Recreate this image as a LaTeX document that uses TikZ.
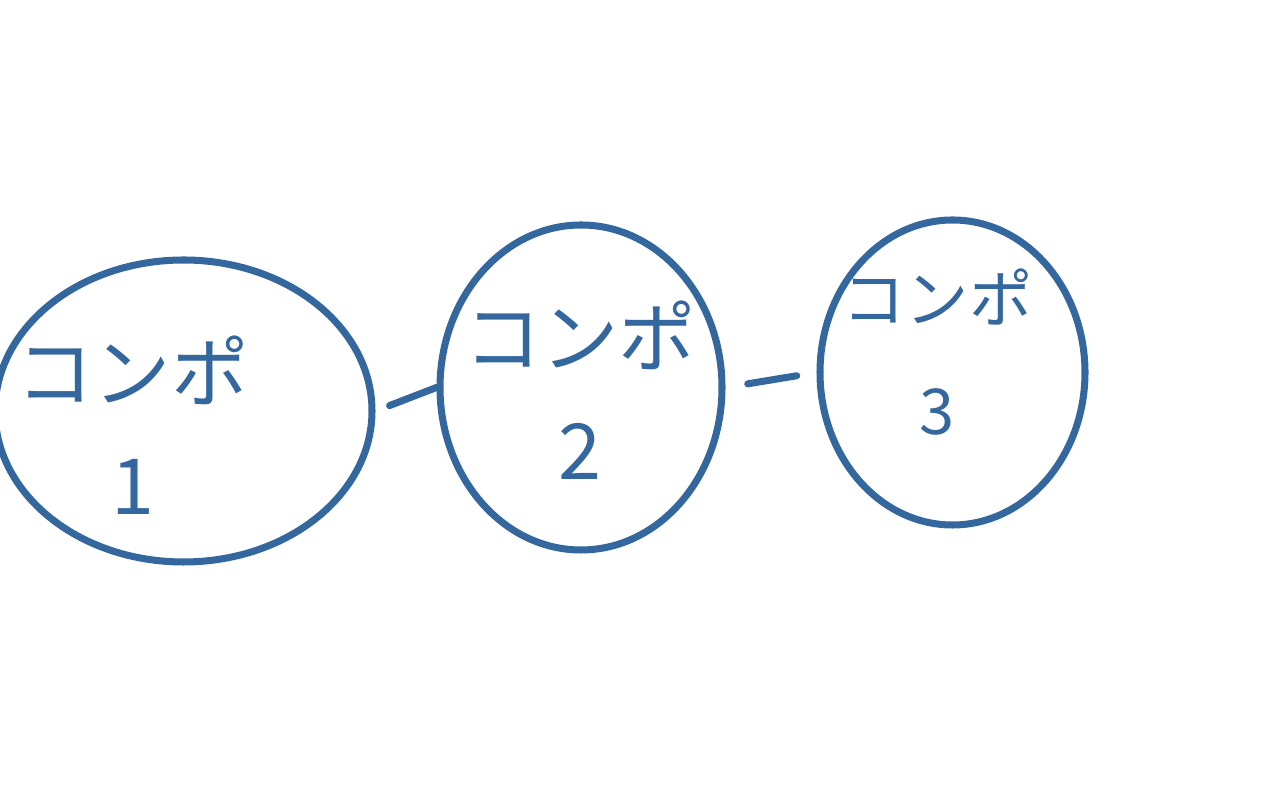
\documentclass[tikz,border=0pt]{standalone}
\usepackage{fontspec}
\newfontfamily\jpfont{Noto Sans CJK JP}
\usepackage{tikz}
\usetikzlibrary{shapes,positioning,calc}
\definecolor{pen}{RGB}{52,103,158}

\begin{document}
\begin{tikzpicture}[-,line width=4pt,line cap=round,draw=pen,
    blob/.style={draw=pen,ellipse,inner sep=0pt},
    lbl/.style={text=pen,align=center,font=\jpfont\fontsize{44}{64}\selectfont}]
      \useasboundingbox (0,0) rectangle (25.6,16);

      \node[blob,minimum width=7.54cm,minimum height=6.04cm] (c1) at (3.67,7.78) {};
      \node[blob,minimum width=5.64cm,minimum height=6.5cm] (c2) at (11.62,8.25) {};
      \node[blob,minimum width=5.3cm,minimum height=6.1cm] (c3) at (19.05,8.55) {};

      \node[lbl] (t1) at (2.65,7.5) {コンポ\\1};
      \node[lbl] (t2) at (11.6,8.2) {コンポ\\2};
      \node[lbl,font=\jpfont\fontsize{36}{64}\selectfont] (t3) at (18.75,8.96) {コンポ\\3};

      \draw[shorten <=0.3cm] (c1.east) -- (c2.west);
      \draw[shorten <=0.45cm,shorten >=0.4cm] (c2.east) -- (c3.west);

  \end{tikzpicture}
\end{document}
